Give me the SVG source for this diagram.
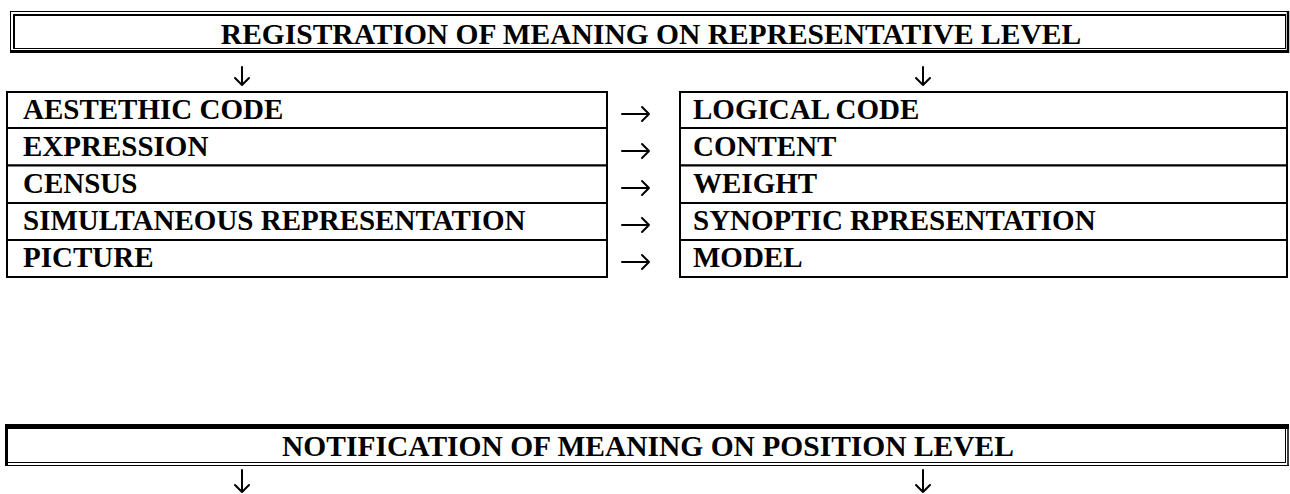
<svg xmlns="http://www.w3.org/2000/svg" width="1290" height="494" viewBox="0 0 1290 494">
<style>
  text { font-family: "Liberation Serif", "Times New Roman", serif; font-weight: bold; fill: #000; }
  .t { font-size: 29px; }
  .h { font-size: 29.5px; text-anchor: middle; }
  .ln { stroke: #000; fill: none; }
  .cell { stroke: #000; stroke-width: 2; fill: #fff; }
  .arr { stroke: #000; stroke-width: 2; fill: none; stroke-linecap: round; stroke-linejoin: round; }
</style>
<rect width="1290" height="494" fill="#fff"/>

<g id="top-header">
  <line class="ln" x1="10" y1="11.5" x2="1289" y2="11.5" stroke-width="1"/>
  <line class="ln" x1="10.5" y1="11" x2="10.5" y2="53" stroke-width="1"/>
  <line class="ln" x1="1288" y1="11" x2="1288" y2="53" stroke-width="2.5"/>
  <line class="ln" x1="10" y1="51.5" x2="1289" y2="51.5" stroke-width="3"/>
  <line class="ln" x1="14" y1="14" x2="14" y2="49" stroke-width="2"/>
  <line class="ln" x1="13" y1="15" x2="1286" y2="15" stroke-width="2"/>
  <line class="ln" x1="1285.5" y1="14" x2="1285.5" y2="49" stroke-width="1"/>
  <line class="ln" x1="13" y1="48.5" x2="1286" y2="48.5" stroke-width="1"/>
  <text class="h" x="651" y="44">REGISTRATION OF MEANING ON REPRESENTATIVE LEVEL</text>
</g>

<g id="left-table">
  <rect class="cell" x="7" y="92" width="600" height="36"/>
  <rect class="cell" x="7" y="128" width="600" height="37.5"/>
  <rect class="cell" x="7" y="165.5" width="600" height="37.5"/>
  <rect class="cell" x="7" y="203" width="600" height="37"/>
  <rect class="cell" x="7" y="240" width="600" height="37"/>
  <text class="t" x="23" y="119">AESTETHIC CODE</text>
  <text class="t" x="23" y="156">EXPRESSION</text>
  <text class="t" x="23" y="193">CENSUS</text>
  <text class="t" x="23" y="230">SIMULTANEOUS REPRESENTATION</text>
  <text class="t" x="23" y="267">PICTURE</text>
</g>

<g id="right-table">
  <rect class="cell" x="680" y="92" width="607" height="36"/>
  <rect class="cell" x="680" y="128" width="607" height="37.5"/>
  <rect class="cell" x="680" y="165.5" width="607" height="37.5"/>
  <rect class="cell" x="680" y="203" width="607" height="37"/>
  <rect class="cell" x="680" y="240" width="607" height="37"/>
  <text class="t" x="693" y="119">LOGICAL CODE</text>
  <text class="t" x="693" y="156">CONTENT</text>
  <text class="t" x="693" y="193">WEIGHT</text>
  <text class="t" x="693" y="230">SYNOPTIC RPRESENTATION</text>
  <text class="t" x="693" y="267">MODEL</text>
</g>

<g id="bottom-header">
  <line class="ln" x1="6.5" y1="424" x2="6.5" y2="466" stroke-width="3"/>
  <line class="ln" x1="5" y1="426.5" x2="1289" y2="426.5" stroke-width="5"/>
  <line class="ln" x1="1285.5" y1="428" x2="1285.5" y2="463" stroke-width="1"/>
  <line class="ln" x1="1288" y1="424" x2="1288" y2="466" stroke-width="1.5"/>
  <line class="ln" x1="8" y1="462.5" x2="1286" y2="462.5" stroke-width="1"/>
  <line class="ln" x1="5" y1="465.5" x2="1289" y2="465.5" stroke-width="1"/>
  <text class="h" x="648" y="456">NOTIFICATION OF MEANING ON POSITION LEVEL</text>
</g>

<g id="connectors">
  <path class="arr" d="M242 67 V85 M235 78 L242 85 L249 78"/>
  <path class="arr" d="M923 67 V85 M916 78 L923 85 L930 78"/>
  <path class="arr" d="M622 114 H649 M642 107 L649 114 L642 121"/>
  <path class="arr" d="M622 151 H649 M642 144 L649 151 L642 158"/>
  <path class="arr" d="M622 188 H649 M642 181 L649 188 L642 195"/>
  <path class="arr" d="M622 225 H649 M642 218 L649 225 L642 232"/>
  <path class="arr" d="M622 262 H649 M642 255 L649 262 L642 269"/>
  <path class="arr" d="M242 470 V492 M235 485 L242 492 L249 485"/>
  <path class="arr" d="M923 470 V492 M916 485 L923 492 L930 485"/>
</g>
</svg>
